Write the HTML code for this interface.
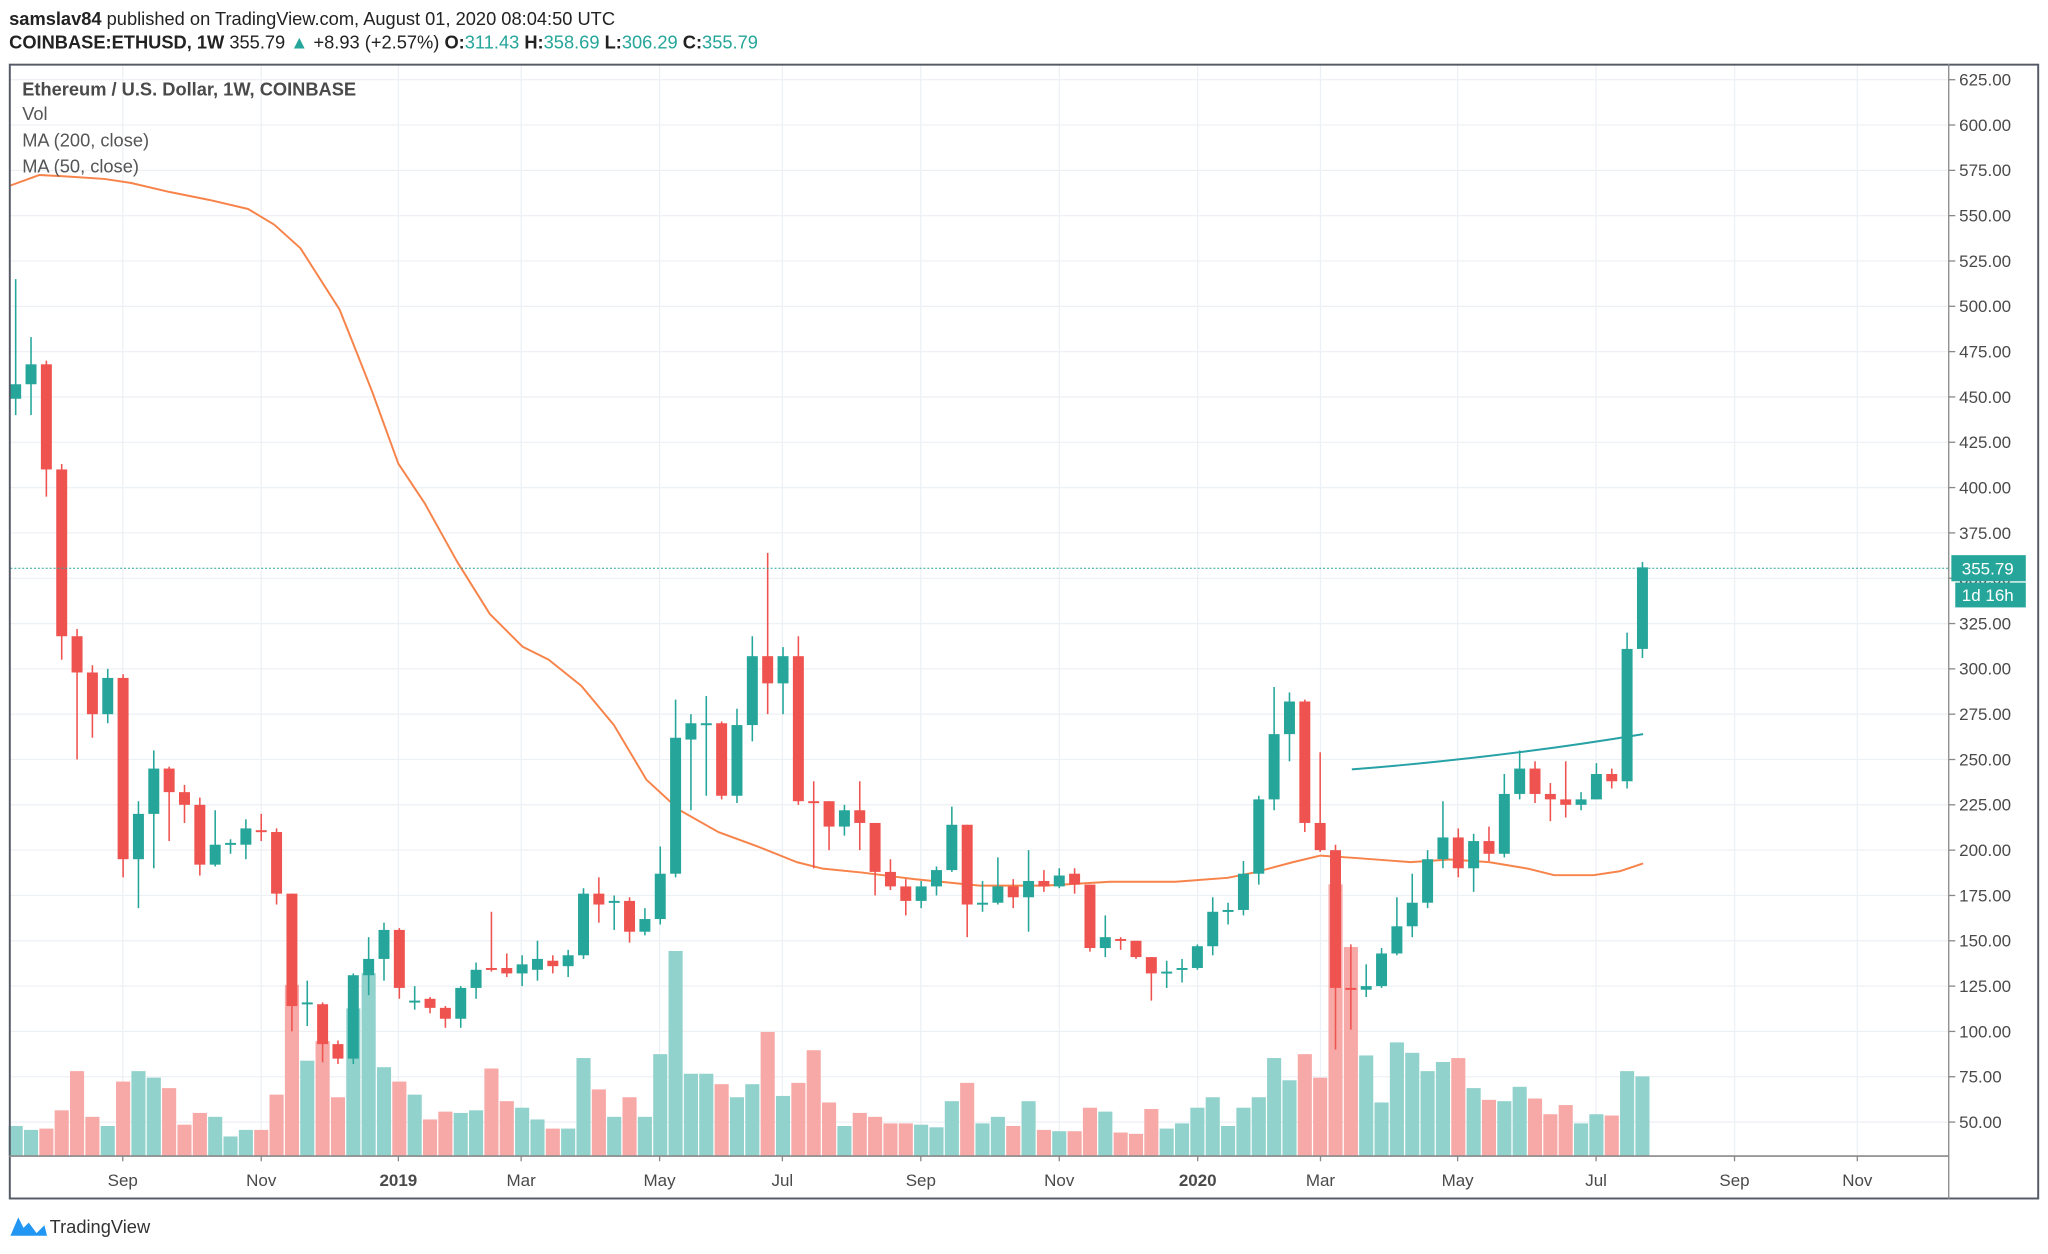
<!DOCTYPE html>
<html><head><meta charset="utf-8"><style>
html,body{margin:0;padding:0;background:#fff;}
svg{display:block;font-family:"Liberation Sans",sans-serif;}
</style></head><body>
<svg id="c" xmlns="http://www.w3.org/2000/svg" width="2048" height="1254" viewBox="0 0 1568 960" preserveAspectRatio="none">
<rect width="1568" height="960" fill="#fff"/>
<g id="grid"></g>
<g id="vol"></g>
<g id="ma"></g>
<g id="cand"></g>
<line x1="8" y1="435" x2="1492" y2="435" stroke="#26a69a" stroke-width="0.8" stroke-dasharray="1.5,1.5"/>
<rect x="7.5" y="49.5" width="1553" height="868" fill="none" stroke="#555a66" stroke-width="1.5"/>
<line x1="1492" y1="49" x2="1492" y2="918" stroke="#888" stroke-width="1"/>
<line x1="7" y1="885" x2="1492" y2="885" stroke="#888" stroke-width="1.2"/>
<g id="axis" font-size="13" fill="#4a4a4a"></g>
<rect x="1494" y="425" width="57" height="20" fill="#26a69a"/>
<text x="1502" y="440" font-size="13" fill="#fff">355.79</text>
<rect x="1497" y="446" width="54" height="19" fill="#26a69a"/>
<text x="1502" y="460" font-size="13" fill="#fff">1d 16h</text>
<text x="7" y="19" font-size="14" fill="#222"><tspan font-weight="bold">samslav84</tspan> published on TradingView.com, August 01, 2020 08:04:50 UTC</text>
<text x="7" y="37" font-size="14" fill="#222"><tspan font-weight="bold">COINBASE:ETHUSD, 1W</tspan> 355.79 <tspan fill="#26a69a">▲</tspan> +8.93 (+2.57%) <tspan font-weight="bold">O:</tspan><tspan fill="#26a69a">311.43</tspan> <tspan font-weight="bold">H:</tspan><tspan fill="#26a69a">358.69</tspan> <tspan font-weight="bold">L:</tspan><tspan fill="#26a69a">306.29</tspan> <tspan font-weight="bold">C:</tspan><tspan fill="#26a69a">355.79</tspan></text>
<g font-size="14" fill="#555">
<text x="17" y="73" font-weight="bold" fill="#4a4a4a">Ethereum / U.S. Dollar, 1W, COINBASE</text>
<text x="17" y="92">Vol</text>
<text x="17" y="112">MA (200, close)</text>
<text x="17" y="132">MA (50, close)</text>
</g>
<path d="M8 946 L14 932 L18 940 L22 936 L28 944 L34 938 L36 946 Z" fill="#2196f3"/>
<text x="38" y="944" font-size="14" fill="#333">TradingView</text>
</svg>
<script>
var NS="http://www.w3.org/2000/svg";
function el(p,t,a,txt){var e=document.createElementNS(NS,t);for(var k in a)e.setAttribute(k,a[k]);if(txt)e.textContent=txt;document.getElementById(p).appendChild(e);return e;}
function Y(p){return 859-(p-50)*1.3878;}
var months=[[94,"Sep"],[200,"Nov"],[305,"2019",1],[399,"Mar"],[505,"May"],[599,"Jul"],[705,"Sep"],[811,"Nov"],[917,"2020",1],[1011,"Mar"],[1116,"May"],[1222,"Jul"],[1328,"Sep"],[1422,"Nov"]];
months.forEach(function(m){el("grid","line",{x1:m[0],y1:50,x2:m[0],y2:885,stroke:"#edf1f5","stroke-width":1});
var t=el("axis","text",{x:m[0],y:908,"text-anchor":"middle"},m[1]);if(m[2])t.setAttribute("font-weight","bold");
el("axis","line",{x1:m[0],y1:885,x2:m[0],y2:889,stroke:"#888"});});
for(var p=50;p<=625;p+=25){var y=Y(p);el("grid","line",{x1:8,y1:y,x2:1492,y2:y,stroke:"#edf1f5","stroke-width":1});
el("axis","line",{x1:1492,y1:y,x2:1497,y2:y,stroke:"#888"});el("axis","text",{x:1500,y:y+4.5},p.toFixed(2));}
var D=[[449,515,440,457],[457,483,440,468],[468,470,395,410],[410,413,305,318],[318,322,250,298],[298,302,262,275],[275,300,270,295],[295,297,185,195],[195,227,168,220],[220,255,190,245],[245,246,205,232],[232,236,215,225],[225,229,186,192],[192,222,191,203],[203,206,198,204],[203,217,195,212],[211,220,205,210],[210,212,170,176],[176,176,100,114],[115,128,103,116],[115,116,83,93],[93,95,82,85],[85,132,82,131],[131,152,120,140],[140,160,128,156],[156,157,118,124],[116,125,112,117],[118,119,110,113],[113,114,102,107],[107,125,102,124],[124,138,118,134],[135,166,133,134],[135,143,130,132],[132,142,125,137],[134,150,128,140],[139,142,132,136],[136,145,130,142],[142,179,140,176],[176,185,160,170],[171,175,156,172],[172,174,149,155],[155,168,153,162],[162,202,159,187],[187,283,185,262],[261,275,222,270],[269,285,230,270],[270,271,228,230],[230,278,226,269],[269,318,260,307],[307,364,275,292],[292,312,275,307],[307,318,225,227],[227,238,190,226],[227,227,200,213],[213,225,208,222],[222,238,200,215],[215,215,175,188],[188,195,178,180],[180,184,164,172],[172,183,168,180],[180,191,175,189],[189,224,188,214],[214,214,152,170],[170,183,166,171],[171,196,170,180],[180,184,168,174],[174,200,155,183],[183,189,177,180],[180,190,179,186],[187,190,176,181],[181,181,144,146],[146,164,141,152],[151,152,145,150],[150,150,140,141],[141,141,117,132],[132,139,124,133],[134,140,127,135],[135,148,134,147],[147,174,142,166],[166,171,159,167],[167,194,164,187],[187,230,181,228],[228,290,222,264],[264,287,249,282],[282,283,210,215],[215,254,199,200],[200,203,90,124],[124,148,101,123],[123,137,119,125],[125,146,124,143],[143,174,142,158],[158,187,152,171],[171,200,168,195],[195,227,190,207],[207,212,185,190],[190,209,177,205],[205,213,194,198],[198,242,196,231],[231,255,228,245],[245,249,226,231],[231,237,216,228],[228,249,218,225],[225,232,222,228],[228,248,228,242],[242,245,234,238],[238,320,234,311],[311,359,306,356]];
var V=[862,865,864,850,820,855,862,828,820,825,833,861,852,855,870,865,865,838,754,812,797,840,772,745,817,828,838,857,851,852,850,818,843,848,857,864,864,810,834,855,840,855,807,728,822,822,830,840,830,790,839,829,804,844,862,852,855,860,860,861,863,843,829,860,855,862,843,865,866,866,848,851,867,868,849,864,860,848,840,862,848,840,810,827,807,825,677,725,808,844,798,806,820,813,810,833,842,843,832,841,853,846,860,853,854,820,824];
D.forEach(function(d,i){var x=12+11.75*i,up=d[3]>=d[0],c=up?"#26a69a":"#ef5350",vc=up?"#92d2cc":"#f7a9a7";
el("vol","rect",{x:x-5.4,y:V[i],width:10.8,height:885-V[i],fill:vc});
el("cand","line",{x1:x,y1:Y(d[1]),x2:x,y2:Y(d[2]),stroke:c,"stroke-width":1.2});
var t=Y(Math.max(d[0],d[3])),b=Y(Math.min(d[0],d[3]));if(b-t<1.5){b=t+1.5;}
el("cand","rect",{x:x-4.2,y:t,width:8.4,height:b-t,fill:c});});
var m50=[[8,142],[30,134],[50,135],[80,137],[100,140],[130,147],[160,153],[190,160],[210,172],[230,190],[260,237],[270,262],[285,300],[305,355],[325,385],[350,430],[375,470],[400,495],[420,505],[445,525],[470,555],[495,597],[520,620],[550,637],[580,648],[610,660],[630,665],[660,668],[700,673],[750,678],[800,678],[850,675],[900,675],[940,672],[960,668],[990,660],[1011,655],[1040,657],[1080,660],[1110,658],[1140,660],[1170,665],[1190,670],[1220,670],[1240,667],[1258,661]];
el("ma","path",{d:"M"+m50.map(function(p){return p.join(" ");}).join(" L"),fill:"none",stroke:"#f7834a","stroke-width":1.5,"stroke-linejoin":"round"});
el("ma","path",{d:"M1035 589 Q1150 580 1258 562",fill:"none",stroke:"#26a1a6","stroke-width":1.5});
</script>
</body></html>
